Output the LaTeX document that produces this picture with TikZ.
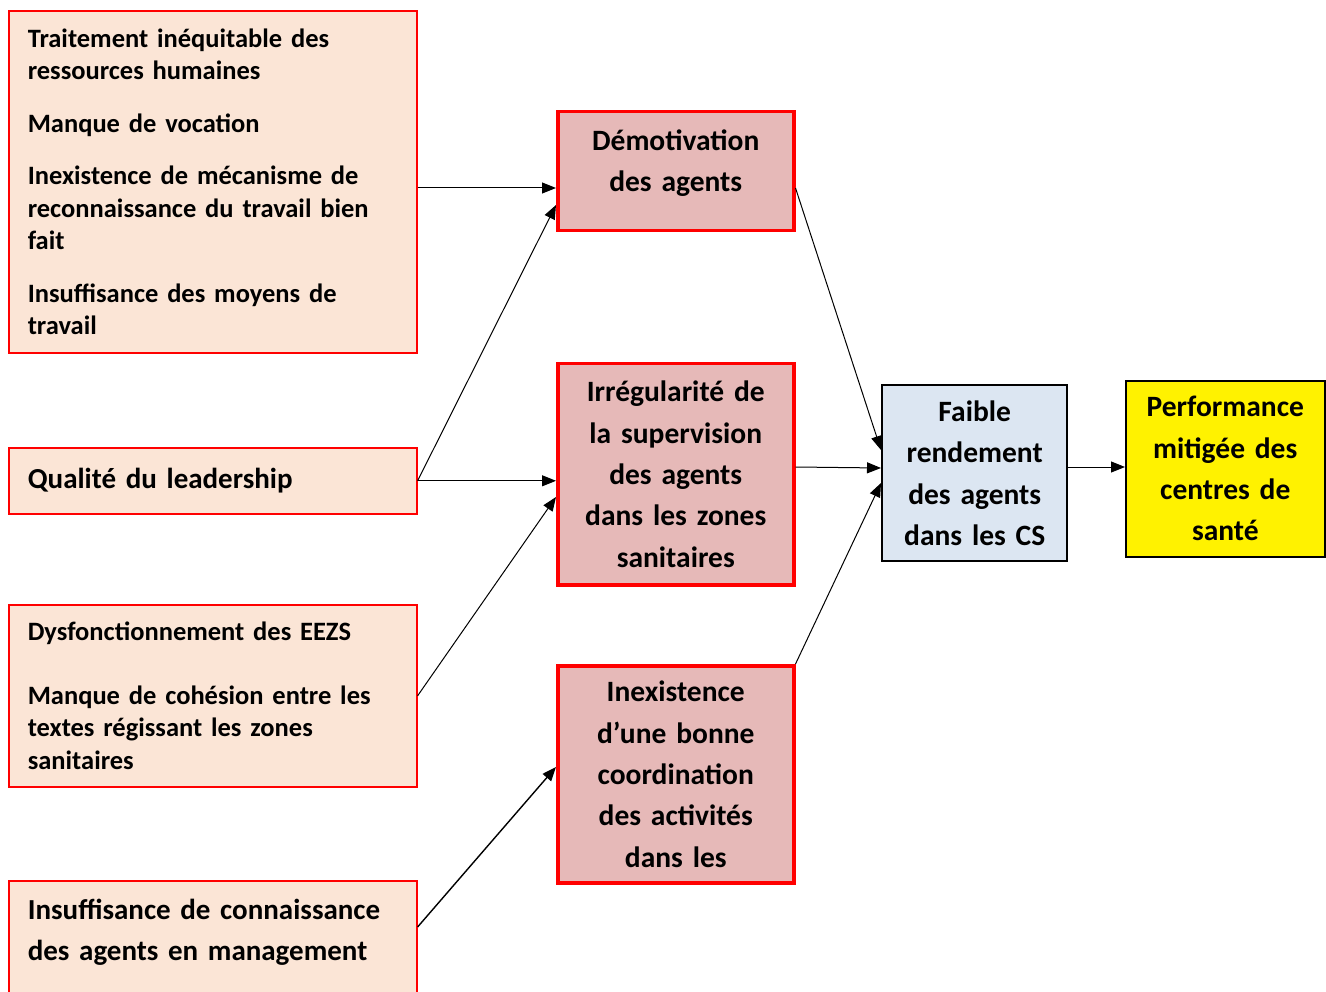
\documentclass[tikz,border=0pt]{standalone}
\usepackage{fontspec}
\setmainfont{Carlito}
\usetikzlibrary{positioning, calc}
\usetikzlibrary{arrows.meta}
\definecolor{peche}{HTML}{FBE5D6}
\definecolor{rose}{HTML}{E6B9B8}
\definecolor{bleuclair}{HTML}{DCE6F2}
\definecolor{rouge}{HTML}{FF0000}
\tikzset{
  petit/.style={font=\bfseries\fontsize{26.5}{32.5}\selectfont},
  grand/.style={font=\bfseries\fontsize{29.5}{41.3}\selectfont},
  cause/.style={draw=rouge, line width=1.6pt, fill=peche, anchor=north west,
    minimum width=408, text width=370, inner xsep=19, align=left},
  effet/.style={draw=rouge, line width=3.5pt, fill=rose, anchor=north west,
    minimum width=236, text width=220, align=center, grand},
  fleche/.style={-{Triangle[length=14pt,width=11pt]}, line width=1pt}
}
\begin{document}
\begin{tikzpicture}[x=1pt,y=-1pt]
    \useasboundingbox (0,0) rectangle (1326,992);
    % Causes
    \node[cause, petit, minimum height=342] (A) at (8,10) {
      Traitement inéquitable des\\ressources humaines\\[20pt]
      Manque de vocation\\[20pt]
      Inexistence de mécanisme de\\reconnaissance du travail bien\\fait\\[20pt]
      Insuffisance des moyens de\\travail};
    \node[cause, minimum height=66, font=\bfseries\fontsize{29}{41.3}\selectfont] (B) at (8,447)
      {Qualité du leadership};
    \node[cause, petit, minimum height=182] (C) at (8,604) {
      Dysfonctionnement des EEZS\\[31pt]
      Manque de cohésion entre les\\textes régissant les zones\\sanitaires};
    \node[cause, font=\bfseries\fontsize{29}{41.8}\selectfont, inner ysep=18, text depth=80] (D) at (8,880) {
      Insuffisance de connaissance\\des agents en management};
    % Effets intermediaires
    \node[effet, minimum height=119, text depth=62] (dem) at (556,110) {Démotivation\\des agents};
    \node[effet, minimum height=221] (irr) at (556,362)
      {Irrégularité de\\la supervision\\des agents\\dans les zones\\sanitaires};
    \node[effet, minimum height=217] (inex) at (556,664)
      {Inexistence\\d’une bonne\\coordination\\des activités\\dans les};
    % Resultats
    \node[draw, line width=2.4pt, fill=bleuclair, anchor=north west, minimum width=185,
      minimum height=176, text width=175, align=center, grand] (faible) at (881,384)
      {Faible\\rendement\\des agents\\dans les CS};
    \node[draw, line width=1.6pt, fill=yellow, anchor=north west, minimum width=199,
      minimum height=176, text width=190, align=center, grand] (perf) at (1125,380)
      {Performance\\mitigée des\\centres de\\santé};
    % Fleches
    \draw[fleche] (A.east |- 0,188) -- (dem.west |- 0,188);
    \draw[fleche] (B.east) -- (dem.west |- 0,205);
    \draw[fleche] (B.east) -- (B.east -| irr.west);
    \draw[fleche] (C.east) -- (irr.west |- 0,497);
    \draw[fleche, line width=1.4pt] (D.north east |- 0,927) -- (inex.west |- 0,767);
    \draw[fleche] (dem.east |- 0,188) -- (faible.west |- 0,450);
    \draw[fleche] (irr.east |- 0,467) -- (faible.west |- 0,468);
    \draw[fleche] (inex.north east) -- (faible.west |- 0,483);
    \draw[fleche] (faible.east |- 0,467) -- (perf.west |- 0,467);
\end{tikzpicture}
\end{document}
